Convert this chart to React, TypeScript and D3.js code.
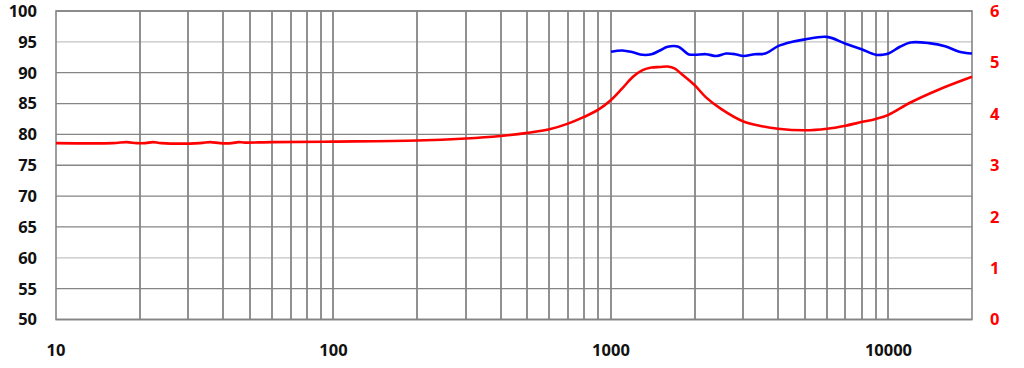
import React from "react";
import * as d3 from "d3";

const W = 1024;
const H = 368;
const M = { left: 56, right: 972, top: 11, bottom: 319.5 };

const splFreq = [1000, 1100, 1200, 1300, 1400, 1500, 1600, 1750, 1900, 2000, 2200, 2400, 2600, 2800, 3000, 3300, 3600, 4000, 4500, 5000, 6000, 7000, 8000, 9000, 9500, 10000, 11000, 12000, 14000, 16000, 18000, 20000];
const splDb = [93.4, 93.6, 93.3, 92.9, 93.0, 93.6, 94.2, 94.2, 93.0, 92.9, 93.0, 92.7, 93.1, 93.0, 92.7, 93.0, 93.1, 94.3, 95.0, 95.4, 95.8, 94.7, 93.8, 92.9, 92.9, 93.1, 94.2, 94.9, 94.8, 94.3, 93.4, 93.1];

const impFreq = [10, 16, 18, 19.5, 21, 22.3, 24, 33, 36, 39, 43, 45.4, 48, 60, 100, 200, 300, 400, 500, 600, 700, 800, 900, 1000, 1100, 1200, 1300, 1400, 1500, 1600, 1700, 1800, 2000, 2200, 2500, 3000, 3500, 4000, 5000, 6000, 7000, 8000, 9000, 10000, 12000, 15000, 20000];
const impOhm = [3.43, 3.43, 3.45, 3.43, 3.43, 3.45, 3.43, 3.43, 3.45, 3.43, 3.43, 3.45, 3.44, 3.45, 3.46, 3.48, 3.52, 3.57, 3.63, 3.70, 3.81, 3.94, 4.08, 4.27, 4.50, 4.72, 4.85, 4.90, 4.91, 4.92, 4.88, 4.77, 4.56, 4.32, 4.09, 3.85, 3.76, 3.71, 3.68, 3.71, 3.77, 3.84, 3.90, 3.98, 4.22, 4.46, 4.72];

const xTicks = [10, 100, 1000, 10000];
const yTicksLeft = [50, 55, 60, 65, 70, 75, 80, 85, 90, 95, 100];
const yTicksRight = [0, 1, 2, 3, 4, 5, 6];
const gridFreqs = (() => {
  const out: number[] = [];
  for (const dec of [10, 100, 1000, 10000]) {
    for (let k = 1; k <= 9; k++) {
      const f = dec * k;
      if (f > 10 && f < 20000) out.push(f);
    }
  }
  return out;
})();

export default function App() {
  const x = d3.scaleLog().domain([10, 20000]).range([M.left, M.right]);
  const yL = d3.scaleLinear().domain([50, 100]).range([M.bottom, M.top]);
  const yR = d3.scaleLinear().domain([0, 6]).range([M.bottom, M.top]);

  const splLine = d3
    .line<number>()
    .x((_, i) => x(splFreq[i]))
    .y((d) => yL(d))
    .curve(d3.curveCatmullRom.alpha(0.5));
  const impLine = d3
    .line<number>()
    .x((_, i) => x(impFreq[i]))
    .y((d) => yR(d))
    .curve(d3.curveCatmullRom.alpha(0.5));

  const font = "'Open Sans', sans-serif";
  const grid = "#858585";

  return (
    <svg
      width={W}
      height={H}
      style={{ position: "absolute", left: 0, top: 0, background: "#fff" }}
    >
      <rect x={0} y={0} width={W} height={H} fill="#fff" />
      {yTicksLeft.map((t) => (
        <line
          key={"h" + t}
          x1={M.left}
          x2={M.right}
          y1={yL(t)}
          y2={yL(t)}
          stroke={t === 95 || t === 60 ? "#c4c4c4" : grid}
          strokeWidth={1.3}
        />
      ))}
      {gridFreqs.map((f) => (
        <line
          key={"v" + f}
          x1={Math.round(x(f))}
          x2={Math.round(x(f))}
          y1={M.top}
          y2={M.bottom}
          stroke={grid}
          strokeWidth={1.8}
        />
      ))}
      <rect
        x={M.left}
        y={M.top}
        width={M.right - M.left}
        height={M.bottom - M.top}
        fill="none"
        stroke={grid}
        strokeWidth={1.6}
      />
      <path d={impLine(impOhm) || ""} fill="none" stroke="#ff0000" strokeWidth={2.6} strokeLinejoin="round" />
      <path d={splLine(splDb) || ""} fill="none" stroke="#0000ff" strokeWidth={2.6} strokeLinejoin="round" />
      {yTicksLeft.map((t) => (
        <text
          key={"yl" + t}
          x={37}
          y={yL(t)}
          dy="0.36em"
          textAnchor="end"
          fontFamily={font}
          fontWeight="bold"
          fontSize={16.5}
          fill="#111"
        >
          {t}
        </text>
      ))}
      {yTicksRight.map((t) => (
        <text
          key={"yr" + t}
          x={990}
          y={yR(t)}
          dy="0.36em"
          textAnchor="start"
          fontFamily={font}
          fontWeight="bold"
          fontSize={16.5}
          fill="#ff0000"
        >
          {t}
        </text>
      ))}
      {xTicks.map((t) => (
        <text
          key={"x" + t}
          x={x(t)}
          y={350}
          dy="0.36em"
          textAnchor="middle"
          fontFamily={font}
          fontWeight="bold"
          fontSize={16.5}
          fill="#111"
        >
          {t}
        </text>
      ))}
    </svg>
  );
}
